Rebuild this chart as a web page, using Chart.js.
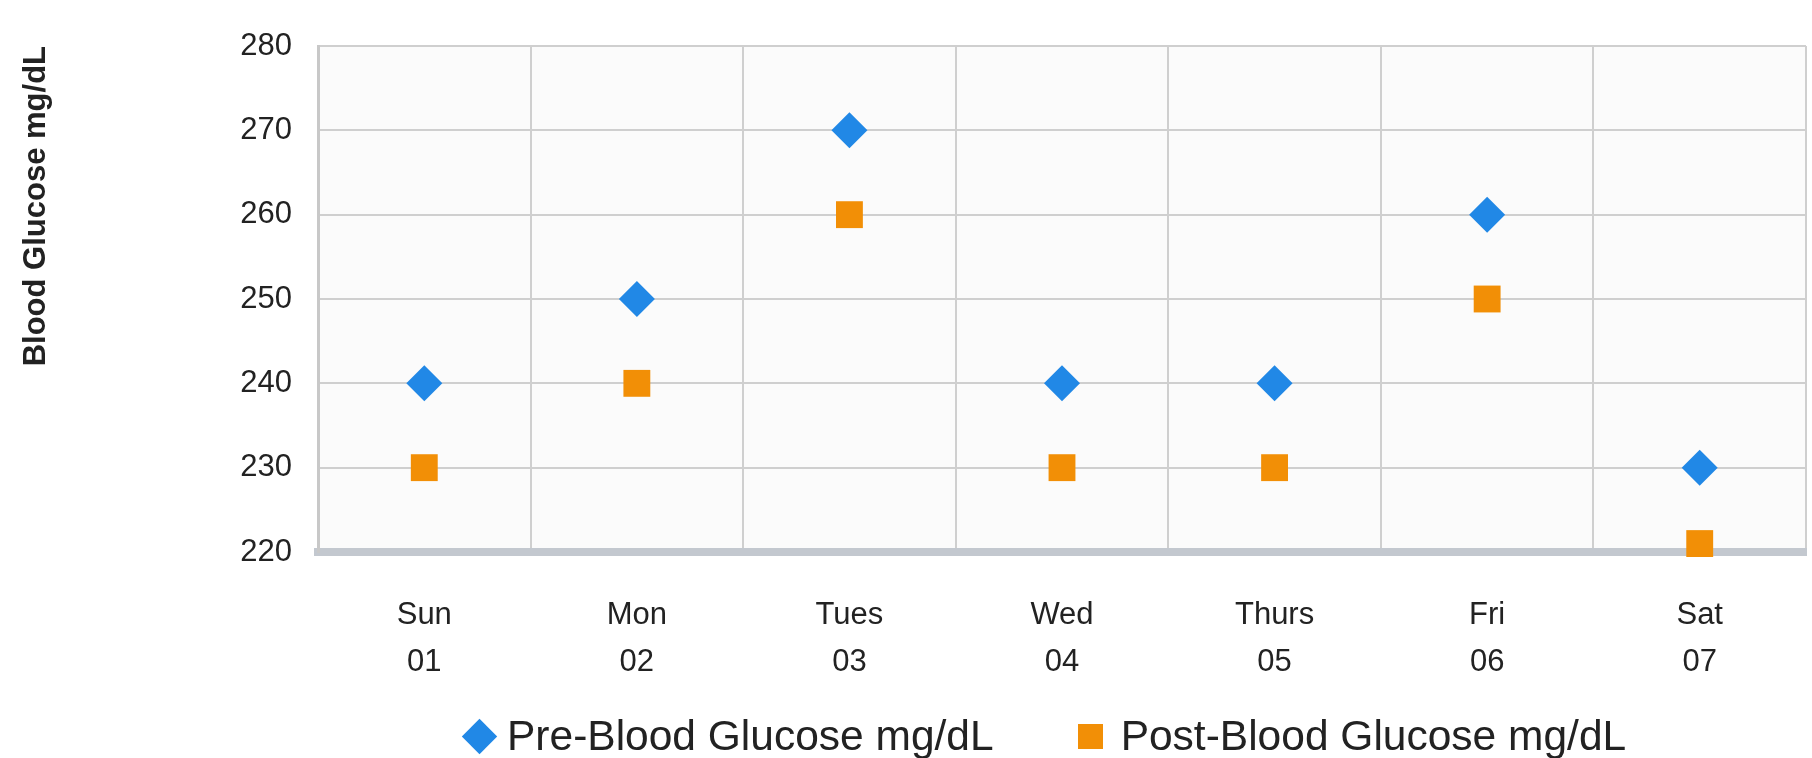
<!DOCTYPE html>
<html>
<head>
<meta charset="utf-8">
<script src="https://cdn.jsdelivr.net/npm/chart.js@4.4.1/dist/chart.umd.min.js"></script>
<style>
  html, body { margin: 0; padding: 0; background: #fff; overflow: hidden; }
  #wrap { position: relative; width: 1812px; height: 758px; overflow: hidden; }
  #legend {
    position: absolute; left: 462px; top: 714px;
    display: flex; align-items: center;
    font: 42.5px "Liberation Sans", Arial, sans-serif; line-height: 44px;
    color: #222; white-space: nowrap;
  }
  #legend .item { display: flex; align-items: center; }
  #legend .item + .item { margin-left: 84px; }
  #legend .diamond { width: 25px; height: 25px; transform: rotate(45deg); margin: 0 15px 0 5px; }
  #legend .square { width: 25px; height: 25px; margin-right: 18px; }
</style>
</head>
<body>
<div id="wrap">
  <canvas id="glucoseChart"></canvas>
  <div id="legend"></div>
</div>
<script>
const days = [["Sun", "01"], ["Mon", "02"], ["Tues", "03"], ["Wed", "04"], ["Thurs", "05"], ["Fri", "06"], ["Sat", "07"]];
const preGlucose = [240, 250, 270, 240, 240, 260, 230];
const postGlucose = [230, 240, 260, 230, 230, 250, 221];
const yMin = 220;
const yMax = 280;
const yStep = 10;

const fontFamily = '"Liberation Sans", Arial, sans-serif';

// light background behind the plot area
const plotBg = {
  id: "plotBg",
  beforeDraw(chart) {
    const { ctx, chartArea } = chart;
    ctx.save();
    ctx.fillStyle = "#fbfbfb";
    ctx.fillRect(chartArea.left, chartArea.top, chartArea.width, chartArea.height);
    ctx.restore();
  },
};

const ctx = document.getElementById("glucoseChart").getContext("2d");
const chart = new Chart(ctx, {
  type: "line",
  data: {
    labels: days,
    datasets: [
      {
        label: "Pre-Blood Glucose mg/dL",
        data: preGlucose,
        showLine: false,
        pointStyle: "rectRot",
        pointRadius: 18,
        pointHoverRadius: 18,
        backgroundColor: "#2188e6",
        borderColor: "#2188e6",
        borderWidth: 0,
        clip: false,
      },
      {
        label: "Post-Blood Glucose mg/dL",
        data: postGlucose,
        showLine: false,
        pointStyle: "rect",
        pointRadius: 19,
        pointHoverRadius: 19,
        backgroundColor: "#f28f06",
        borderColor: "#f28f06",
        borderWidth: 0,
        clip: false,
      },
    ],
  },
  options: {
    responsive: true,
    maintainAspectRatio: false,
    animation: false,
    layout: { autoPadding: false, padding: { top: 46, right: 6, bottom: 76, left: 0 } },
    plugins: {
      legend: { display: false },
      tooltip: { enabled: false },
    },
    scales: {
      x: {
        offset: true,
        grid: { offset: true, color: "#cfcfcf", lineWidth: 2, drawTicks: false },
        border: { color: "#c3c8cf", width: 8 },
        ticks: {
          color: "#222",
          padding: 40,
          font: { family: fontFamily, size: 31, lineHeight: 1.52 },
        },
        afterFit: function (scale) {
          scale.height = 130;
        },
      },
      y: {
        min: yMin,
        max: yMax,
        grid: { color: "#cfcfcf", lineWidth: 2, drawTicks: false },
        border: { color: "#c8c8c8", width: 3 },
        ticks: {
          stepSize: yStep,
          color: "#222",
          padding: 26,
          font: { family: fontFamily, size: 31 },
        },
        title: {
          display: true,
          text: "Blood Glucose mg/dL",
          align: "end",
          color: "#222",
          padding: { top: 18, bottom: 0 },
          font: { family: fontFamily, size: 31, weight: "bold" },
        },
        afterFit: function (scale) {
          scale.width = 318;
        },
      },
    },
  },
  plugins: [plotBg],
});

// legend built from the datasets
const legendEl = document.getElementById("legend");
chart.data.datasets.forEach((ds) => {
  const item = document.createElement("span");
  item.className = "item";
  const mark = document.createElement("span");
  mark.className = ds.pointStyle === "rectRot" ? "diamond" : "square";
  mark.style.background = ds.backgroundColor;
  const txt = document.createElement("span");
  txt.textContent = ds.label;
  item.appendChild(mark);
  item.appendChild(txt);
  legendEl.appendChild(item);
});
</script>
</body>
</html>
